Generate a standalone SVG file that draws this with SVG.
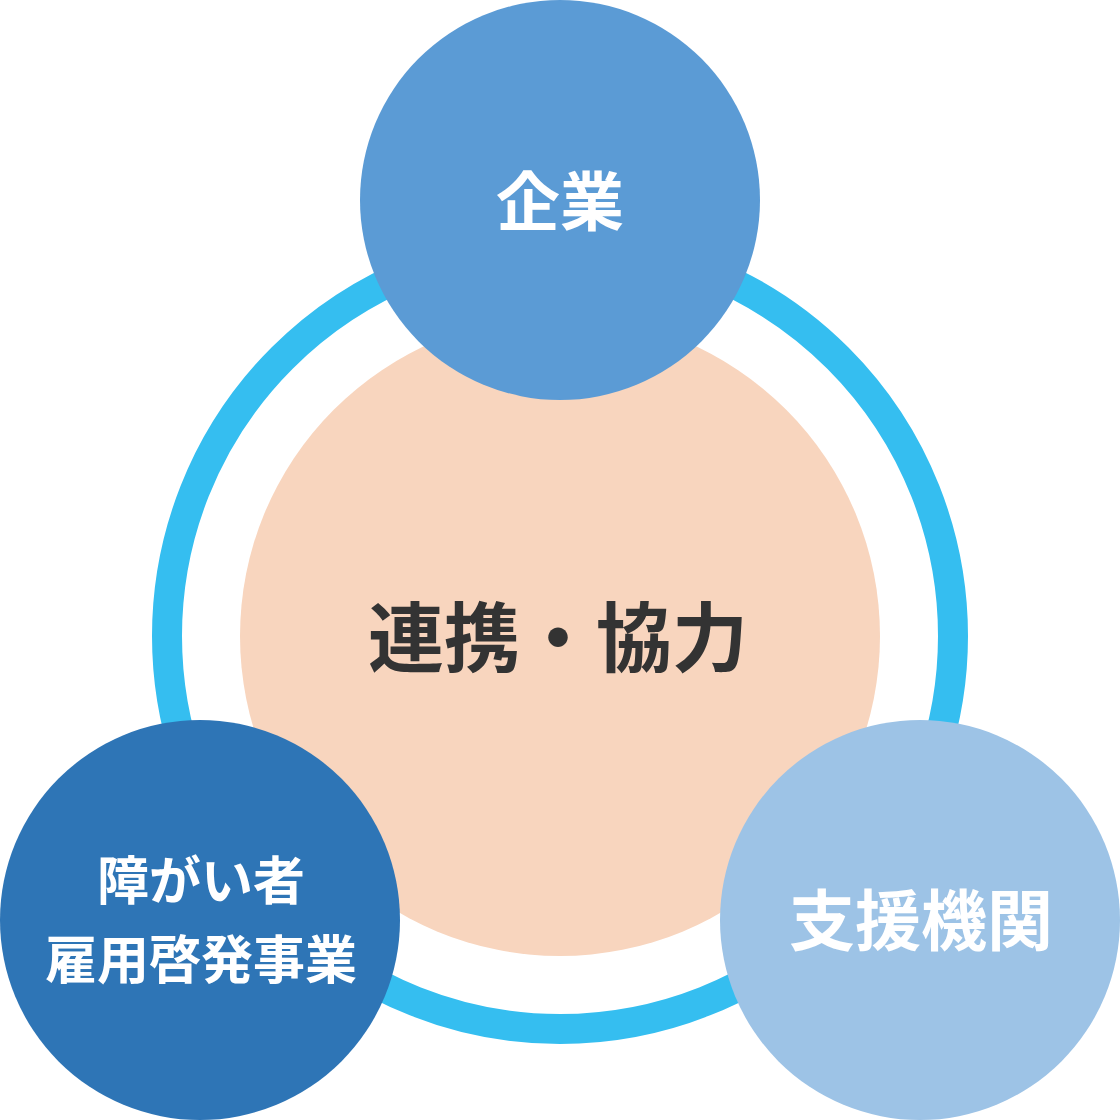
<svg xmlns="http://www.w3.org/2000/svg" width="1120" height="1120" viewBox="0 0 1120 1120">
<style>
text{font-family:"Noto Sans CJK JP","Noto Sans",sans-serif;font-weight:700;text-anchor:middle}
.w{fill:#ffffff}
</style>
<rect width="1120" height="1120" fill="#ffffff"/>
<g id="connectors">
<circle cx="560" cy="636" r="393" fill="none" stroke="#35BEF0" stroke-width="30"/>
</g>
<g id="center">
<circle cx="560" cy="636" r="320" fill="#F8D5BE"/>
<text x="558" y="666" font-size="76" fill="#333333">連携・協力</text>
</g>
<g id="node-kigyo">
<circle cx="560" cy="200" r="200" fill="#5B9BD5"/>
<text class="w" x="560" y="225" font-size="64">企業</text>
</g>
<g id="node-shogaisha">
<circle cx="200" cy="920" r="200" fill="#2E75B6"/>
<text class="w" x="201" y="900" font-size="52">障がい者</text>
<text class="w" x="201" y="979" font-size="52">雇用啓発事業</text>
</g>
<g id="node-shien">
<circle cx="920" cy="920" r="200" fill="#9DC3E6"/>
<text class="w" x="921" y="945" font-size="66">支援機関</text>
</g>
</svg>
